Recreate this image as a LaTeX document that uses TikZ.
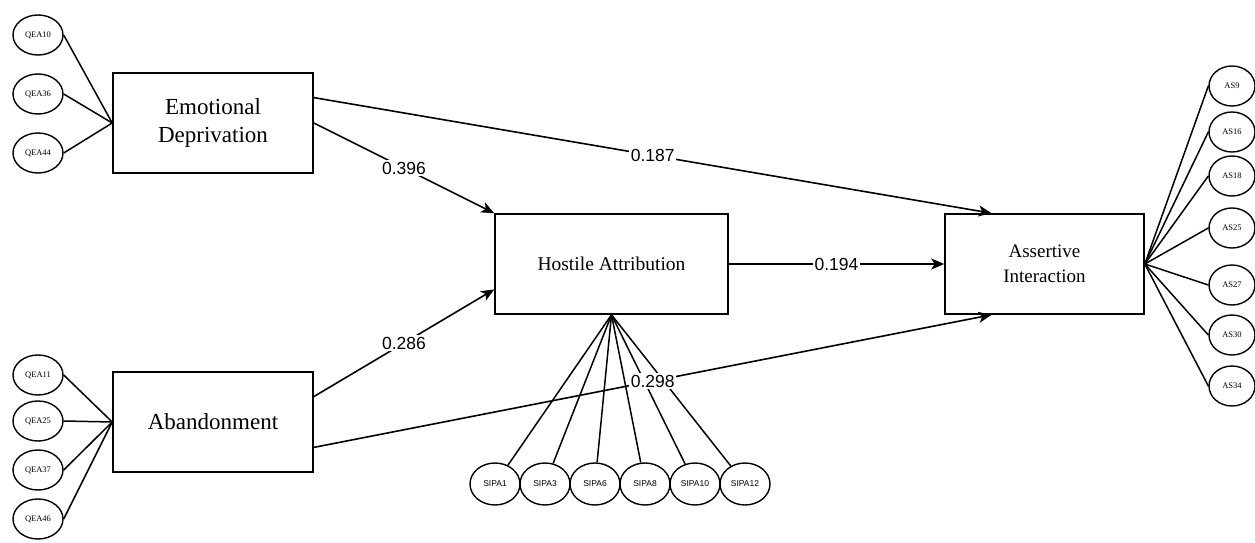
\documentclass[tikz,border=0pt]{standalone}
\usepackage{fontspec}
\setmainfont{Liberation Serif}
\setsansfont{Liberation Sans}
\usetikzlibrary{shapes.geometric,arrows.meta,calc}

\begin{document}
\begin{tikzpicture}[x=1pt,y=-1pt,
  construct/.style={draw,line width=1.6pt,minimum height=100pt,inner sep=0pt,align=center},
  item/.style={draw,ellipse,line width=1.4pt,minimum width=50pt,minimum height=40pt,inner sep=0pt,font=\fontsize{8.5}{10}\selectfont},
  sitem/.style={item,minimum height=42pt,font=\sffamily\fontsize{8.5}{10}\selectfont},
  load/.style={line width=1.5pt},
  effect/.style={line width=1.6pt,-{Stealth[length=13pt,width=11pt,inset=3.5pt]}},
  coef/.style={fill=white,inner sep=1.5pt,font=\sffamily\fontsize{17.5}{19}\selectfont}
]
\useasboundingbox (0,0) rectangle (1255,543);

% latent constructs
\node[construct,minimum width=200pt,font=\fontsize{23}{28}\selectfont] (ed) at (213,123) {Emotional\\Deprivation};
\node[construct,minimum width=200pt,font=\fontsize{23}{28}\selectfont] (ab) at (213,422) {Abandonment};
\node[construct,minimum width=233pt,font=\fontsize{19.5}{24}\selectfont] (ha) at (611.5,264) {Hostile Attribution};
\node[construct,minimum width=199pt,font=\fontsize{19}{25}\selectfont] (ai) at (1044.5,264) {Assertive\\Interaction};

% indicators of Emotional Deprivation
\node[item] (q10) at (38,35) {QEA10};
\node[item] (q36) at (38,94) {QEA36};
\node[item] (q44) at (38,153) {QEA44};
% indicators of Abandonment
\node[item] (q11) at (38,375) {QEA11};
\node[item] (q25) at (38,421) {QEA25};
\node[item] (q37) at (38,470) {QEA37};
\node[item] (q46) at (38,519) {QEA46};
% indicators of Hostile Attribution
\node[sitem] (s1) at (495,484) {SIPA1};
\node[sitem] (s3) at (545,484) {SIPA3};
\node[sitem] (s6) at (595,484) {SIPA6};
\node[sitem] (s8) at (645,484) {SIPA8};
\node[sitem] (s10) at (695,484) {SIPA10};
\node[sitem] (s12) at (745,484) {SIPA12};
% indicators of Assertive Interaction
\node[item,minimum width=46pt] (a9) at (1232,86) {AS9};
\node[item,minimum width=46pt] (a16) at (1232,132) {AS16};
\node[item,minimum width=46pt] (a18) at (1232,176) {AS18};
\node[item,minimum width=46pt] (a25) at (1232,228) {AS25};
\node[item,minimum width=46pt] (a27) at (1232,285) {AS27};
\node[item,minimum width=46pt] (a30) at (1232,335) {AS30};
\node[item,minimum width=46pt] (a34) at (1232,386) {AS34};

% loadings
\foreach \q in {q10,q36,q44} \draw[load] (\q.east) -- (ed.west);
\foreach \q in {q11,q25,q37,q46} \draw[load] (\q.east) -- (ab.west);
\foreach \s in {s1,s3,s6,s8,s10,s12} \draw[load] (ha.south) -- (\s);
\foreach \a in {a9,a16,a18,a25,a27,a30,a34} \draw[load] (ai.east) -- (\a.west);

% structural paths
\draw[effect] ($(ed.north east)!0.25!(ed.south east)$) -- node[coef]{0.187} ($(ai.north west)!0.236!(ai.north east)$);
\draw[effect] (ed.east) -- node[coef]{0.396} (ha.north west);
\draw[effect] (ha.east) -- node[coef]{0.194} (ai.west);
\draw[effect] ($(ab.north east)!0.25!(ab.south east)$) -- node[coef]{0.286} ($(ha.north west)!0.75!(ha.south west)$);
\draw[effect] ($(ab.north east)!0.75!(ab.south east)$) -- node[coef]{0.298} ($(ai.south west)!0.236!(ai.south east)$);
\end{tikzpicture}
\end{document}
